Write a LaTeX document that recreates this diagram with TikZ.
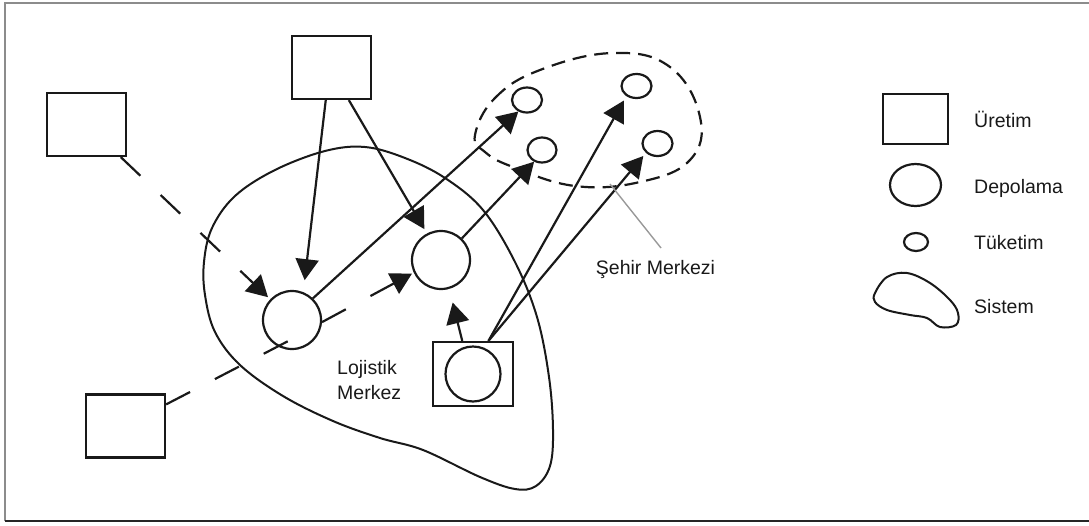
\documentclass[tikz,border=0pt]{standalone}
\usepackage{fontspec}
\setmainfont{Liberation Sans}
\usetikzlibrary{arrows.meta,shapes.geometric}
\begin{document}
\begin{tikzpicture}[x=1pt,y=-1pt,
  txt/.style={font=\fontsize{19.5}{22}\selectfont, inner sep=0pt, text=black!90},
  ln/.style={line width=2.2pt, draw=black!90},
  box/.style={ln, rectangle, minimum width=79pt, minimum height=63pt, inner sep=0pt},
  depot/.style={ln, circle, minimum size=58pt, inner sep=0pt},
  cons/.style={ln, ellipse, minimum width=30pt, minimum height=25pt, inner sep=0pt},
  conn/.style={ln, -{Triangle[length=21pt,width=23pt]}},
  dsh/.style={ln, dash pattern=on 27pt off 28pt},
  dconn/.style={dsh, -{Triangle[length=21pt,width=23pt]}}
]
\useasboundingbox (0,0) rectangle (1089,525);
% frame
\draw[line width=1.3pt, draw=black!45] (5,521) -- (5,3) -- (1089,3);
\draw[line width=1.3pt, draw=black!85] (5,521) -- (1089,521);

% system blob
\draw[ln, line width=2pt] plot[smooth cycle, tension=0.6] coordinates {
 (204,262) (212,228) (235,196) (275,170) (325,151) (365,147) (405,158)
 (445,178) (483,210) (515,262) (537,317) (549,377) (553,430) (550,466)
 (536,486) (515,489) (480,477) (423,450) (380,438) (333,421) (283,396)
 (240,365) (215,332) (205,295)};

% city centre dashed region
\draw[ln, dash pattern=on 14pt off 8pt] plot[smooth cycle, tension=0.7] coordinates {
 (475,135) (495,98) (540,70) (613,53) (670,67) (700,117) (690,160)
 (640,182) (575,186) (513,167) (485,152)};
\coordinate (sm) at (610,184);

% production boxes
\node[box] (A) at (86.5,124.5) {};
\node[box] (B) at (331.5,67.5) {};
\node[box] (C) at (125.5,426) {};
\node[box, minimum width=80pt, minimum height=64pt] (E) at (473,374) {};
\node[depot, minimum size=55pt] (Ein) at (473,374) {};

% depots
\node[depot] (D1) at (292,320) {};
\node[depot] (D2) at (441,260) {};

% consumers
\node[cons] (C1) at (527,100) {};
\node[cons, minimum width=29pt] (C2) at (542,150) {};
\node[cons, minimum height=24pt] (C3) at (636.5,86) {};
\node[cons] (C4) at (657.5,143.5) {};

\coordinate (cend) at (296,337);

% connectors
\draw[dconn, shorten >=3pt] (A) -- (D1);
\draw[conn, shorten >=12pt] (B.260) -- (D1.68);
\draw[conn, shorten >=5pt] (B.298) -- (D2.118);
\draw[conn] (D1.46) -- (C1.233);
\draw[dconn, shorten >=2pt] (D1.356) -- (D2.205);
\draw[dsh] (C.28) -- (cend);
\draw[conn] (D2.46) -- (C2.236);
\draw[conn, shorten >=14pt] (E.108) -- (D2.286);
\draw[conn, shorten >=5pt] (E.65) -- (C3.225);
\draw[conn, shorten >=4pt] (E.65) -- (C4.219);

% labels
\node[txt, anchor=base west] (lm1) at (337,374) {Lojistik};
\node[txt, anchor=base west] (lm2) at (337,399) {Merkez};
\node[txt, anchor=base] (sml) at (655.5,274) {Şehir Merkezi};
\coordinate (smend) at (661,248);
\draw[line width=1.4pt, draw=black!40] (sm) -- (smend);

% legend
\node[ln, rectangle, minimum width=65pt, minimum height=50pt, inner sep=0pt] (L1) at (915.5,119) {};
\node[ln, ellipse, minimum width=51pt, minimum height=42pt, inner sep=0pt] (L2) at (915.5,185) {};
\node[ln, ellipse, minimum width=24pt, minimum height=18pt, inner sep=0pt] (L3) at (916,242) {};
\draw[ln, line width=2pt] plot[smooth cycle, tension=0.6] coordinates {
 (875,293) (887,277) (907,273) (930,283) (950,300) (958,313) (956,325)
 (940,327) (927,318) (910,315) (887,310) (875,302)};
\node[txt, anchor=base west] (t1) at (974,127.5) {Üretim};
\node[txt, anchor=base west] (t2) at (974,193) {Depolama};
\node[txt, anchor=base west] (t3) at (974,249) {Tüketim};
\node[txt, anchor=base west] (t4) at (974,313) {Sistem};
\end{tikzpicture}
\end{document}
